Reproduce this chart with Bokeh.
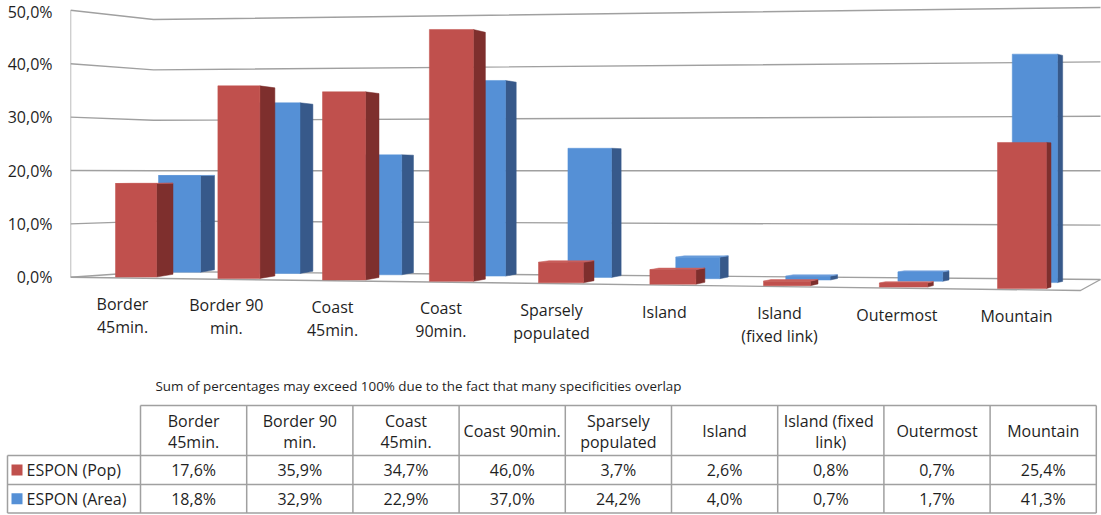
from bokeh.plotting import figure
from bokeh.models import Range1d, FixedTicker, CustomJSTickFormatter
from bokeh.embed import file_html
from bokeh.resources import INLINE
from bokeh.core.properties import value

# ---------------- data ----------------
categories = ["Border 45min.", "Border 90 min.", "Coast 45min.", "Coast 90min.",
              "Sparsely populated", "Island", "Island (fixed link)", "Outermost", "Mountain"]
chart_labels = [["Border", "45min."], ["Border 90", "min."], ["Coast", "45min."], ["Coast", "90min."],
                ["Sparsely", "populated"], ["Island"], ["Island", "(fixed link)"], ["Outermost"], ["Mountain"]]
table_headers = [["Border", "45min."], ["Border 90", "min."], ["Coast", "45min."], ["Coast 90min."],
                 ["Sparsely", "populated"], ["Island"], ["Island  (fixed", "link)"], ["Outermost"], ["Mountain"]]
series_names = ["ESPON (Pop)", "ESPON (Area)"]
pop = [17.6, 35.9, 34.7, 46.0, 3.7, 2.6, 0.8, 0.7, 25.4]
area = [18.8, 32.9, 22.9, 37.0, 24.2, 4.0, 0.7, 1.7, 41.3]
y_ticks = [0, 10, 20, 30, 40, 50]
footnote = "Sum of percentages may exceed 100% due to the fact that many specificities overlap"

# ---------------- style ----------------
FONT = "Open Sans"
TXT = "#1f1f1f"
GRID = "#a0a0a0"
RED = dict(front="#C0504D", side="#7E2F2D", top="#CB615E")
BLUE = dict(front="#5590D6", side="#37598A", top="#6E9FDC")

W_PAGE, H_PAGE = 1101, 515
H_CHART = 360

# perspective geometry (picture pixel space)
Y0 = 276.8      # pixel row of 0 % on the left wall
K0 = 5.34       # pixels per % on the left wall
H_EYE = 20.0    # eye height in % units
WALL_X = 70.0
WALL_BACK_X = 153.0


def yd(py):
    return (Y0 - py) / K0


def red_geom(i):
    L = 115 + 101.25 * i + 1.125 * i * i
    return L, 41 + 1.0 * i, 16.5 - 1.5 * i, 276.5 + 1.44 * i, 5.31 + 0.055 * i, 2.7 - 0.17 * i


def blue_geom(i):
    w = 42 + 0.4 * i
    R = 200 + 98.4 * i + 1.09 * i * i
    return R - w, w, 14 - 1.1 * i, 271.7 + 1.3 * i, 5.14 + 0.049 * i, 2.4 - 0.15 * i


p = figure(width=W_PAGE, height=H_CHART, x_range=Range1d(WALL_X, W_PAGE),
           y_range=Range1d(yd(H_CHART), yd(0)),
           output_backend="svg", toolbar_location=None, x_axis_location=None,
           min_border_left=int(WALL_X), min_border_right=0, min_border_top=0, min_border_bottom=0)
p.outline_line_color = None
p.grid.visible = False
p.background_fill_color = "white"
ax = p.yaxis[0]
ax.ticker = FixedTicker(ticks=y_ticks)
ax.formatter = CustomJSTickFormatter(code="return tick.toFixed(1).replace('.', ',') + '%';")
ax.axis_line_color = None
ax.major_tick_line_color = None
ax.minor_tick_line_color = None
ax.major_tick_out = 0
ax.major_tick_in = 0
ax.major_label_standoff = 18
ax.major_label_text_font = FONT
ax.major_label_text_font_size = "16px"
ax.major_label_text_color = TXT

# walls: gridlines on left wall and back wall
gx, gy = [], []
for tk in y_ticks:
    gx.append([WALL_X, WALL_BACK_X, 1100])
    gy.append([yd(Y0 - K0 * tk), yd(271 - 5.04 * tk), yd(279 - 5.44 * tk)])
gx.append([WALL_X, WALL_X]); gy.append([yd(Y0), yd(Y0 - K0 * 50)])
gx.append([WALL_X, 1080, 1100]); gy.append([yd(Y0), yd(290), yd(279)])
p.multi_line(gx, gy, line_color=GRID, line_width=1.4)


def draw_row(vals, geom, col):
    sx, sy, tx, ty = [], [], [], []
    fl, fr, fb, ft_ = [], [], [], []
    for i, v in enumerate(vals):
        L, w, sw, b, k, d = geom(i)
        kb = k - d / H_EYE
        ft = b - k * v
        bt = b - d - kb * v
        R = L + w
        sx.append([R, R, R + sw, R + sw])
        sy.append([yd(b), yd(ft), yd(bt), yd(b - d)])
        if v < H_EYE:
            tx.append([L, R, R + sw, L + sw])
            ty.append([yd(ft), yd(ft), yd(bt), yd(bt)])
        fl.append(L); fr.append(R); fb.append(yd(b)); ft_.append(yd(ft))
    p.patches(sx, sy, fill_color=col["side"], line_color=col["side"], line_width=0.5)
    if tx:
        p.patches(tx, ty, fill_color=col["top"], line_color=col["top"], line_width=0.5)
    p.quad(left=fl, right=fr, bottom=fb, top=ft_, fill_color=col["front"],
           line_color=col["front"], line_width=0.5)


draw_row(area, blue_geom, BLUE)
draw_row(pop, red_geom, RED)

# category labels
lx, ly, lt = [], [], []
for i, lines in enumerate(chart_labels):
    cx = 122 + 102.75 * i + 1.125 * i * i
    y1 = 303 + 1.6 * i
    for j, s in enumerate(lines):
        lx.append(cx); ly.append(yd(y1 + 23 * j)); lt.append(s)
p.text(lx, ly, text=lt, text_align="center", text_baseline="middle",
       text_font=value(FONT), text_font_size="16px", text_color=TXT)

# ---------------- data table ----------------
t = figure(width=W_PAGE, height=H_PAGE - H_CHART, x_range=Range1d(0, W_PAGE),
           y_range=Range1d(H_PAGE, H_CHART),
           output_backend="svg", toolbar_location=None, x_axis_location=None, y_axis_location=None,
           min_border_left=0, min_border_right=0, min_border_top=0, min_border_bottom=0)
t.outline_line_color = None
t.grid.visible = False

col_w = 106.2
edges = [140 + col_w * j for j in range(len(categories) + 1)]
top_y, head_b, row1_b, bot_y = 405, 455, 484, 512.5
x0s, y0s, x1s, y1s = [], [], [], []
for (a, b2, c) in [(edges[0], top_y, edges[-1]), (7, head_b, edges[-1]), (7, row1_b, edges[-1]), (7, bot_y, edges[-1])]:
    x0s.append(a); y0s.append(b2); x1s.append(c); y1s.append(b2)
x0s.append(7); y0s.append(head_b); x1s.append(7); y1s.append(bot_y)
for e in edges:
    x0s.append(e); y0s.append(top_y); x1s.append(e); y1s.append(bot_y)
t.segment(x0s, y0s, x1s, y1s, line_color=GRID, line_width=1.5)

t.text([155], [385], text=[footnote], text_align="left", text_baseline="middle",
       text_font=value(FONT), text_font_size="13.4px", text_color=TXT)

hx, hy, ht = [], [], []
for j, lines in enumerate(table_headers):
    cxm = (edges[j] + edges[j + 1]) / 2
    if len(lines) == 1:
        hx.append(cxm); hy.append(430.5); ht.append(lines[0])
    else:
        for k2, s in enumerate(lines):
            hx.append(cxm); hy.append(420 + 21 * k2); ht.append(s)
row_c = [(head_b + row1_b) / 2, (row1_b + bot_y) / 2]
for r, vals in enumerate([pop, area]):
    for j, v in enumerate(vals):
        hx.append((edges[j] + edges[j + 1]) / 2); hy.append(row_c[r])
        ht.append(f"{v:.1f}%".replace(".", ","))
t.text(hx, hy, text=ht, text_align="center", text_baseline="middle",
       text_font=value(FONT), text_font_size="16px", text_color=TXT)
t.text([26, 26], row_c, text=series_names, text_align="left", text_baseline="middle",
       text_font=value(FONT), text_font_size="16px", text_color=TXT)
t.rect([16.5, 16.5], row_c, width=11, height=11, width_units="screen", height_units="screen",
       fill_color=[RED["front"], BLUE["front"]], line_color=None)

open("out.html", "w").write(file_html([p, t], INLINE))
